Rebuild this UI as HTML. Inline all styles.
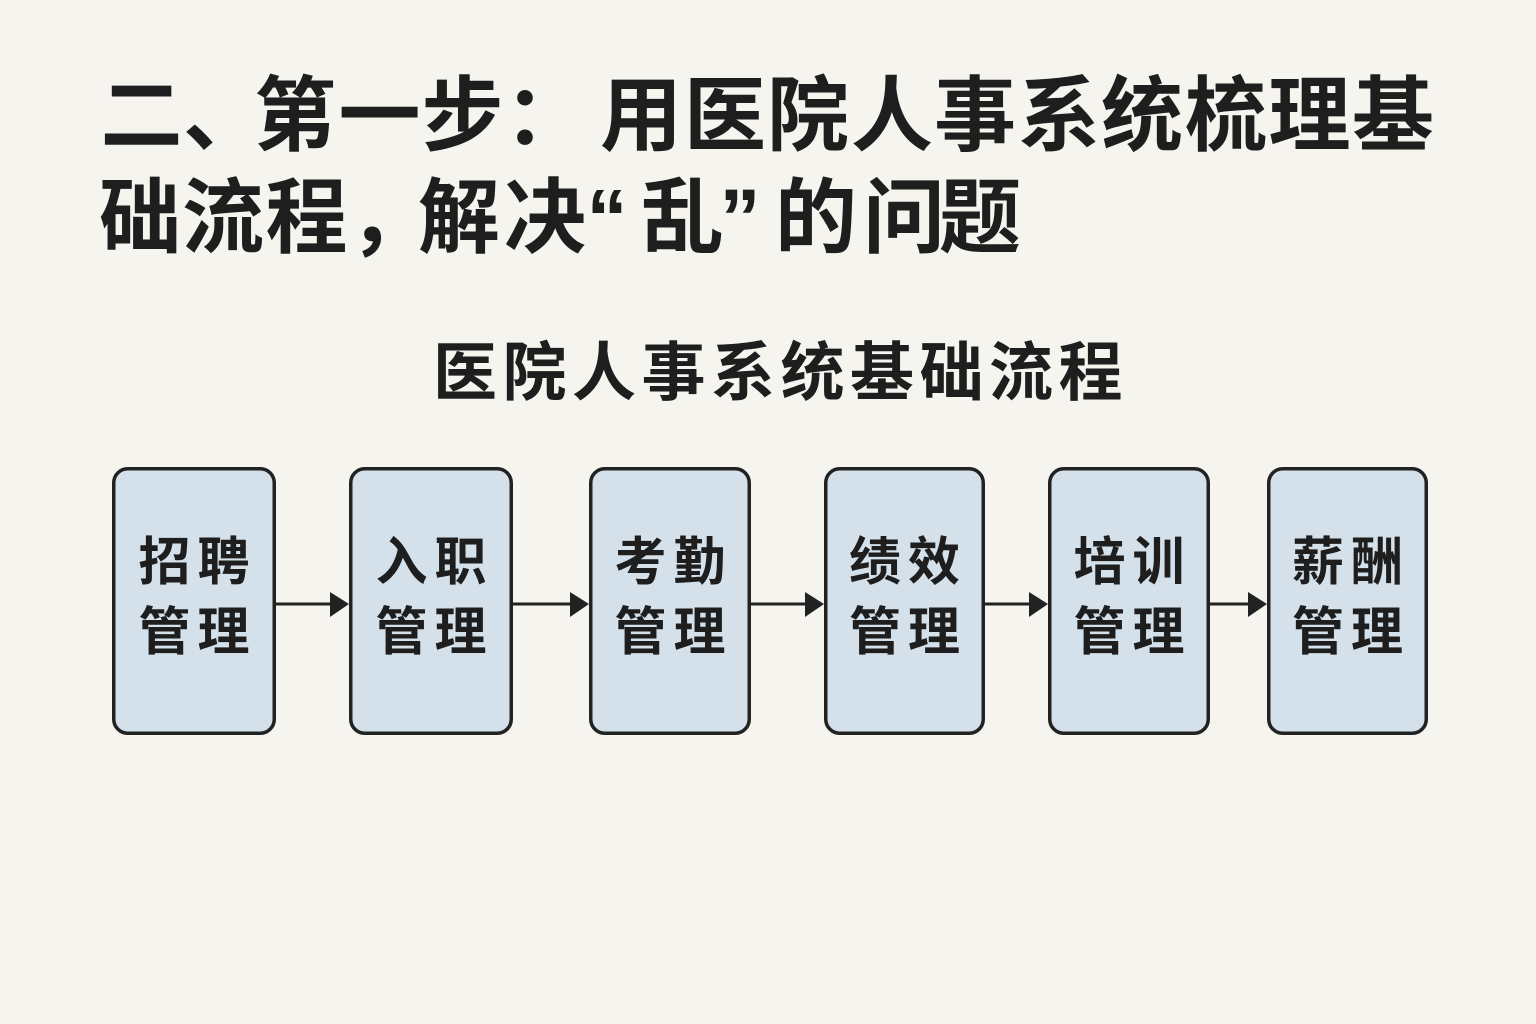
<!DOCTYPE html>
<html><head><meta charset="utf-8">
<style>
html,body{margin:0;padding:0;}
body{width:1536px;height:1024px;background:#f5f4ef;position:relative;overflow:hidden;
font-family:"Liberation Sans","Noto Sans CJK SC",sans-serif;color:#1e1e1e;}
.t{position:absolute;width:100px;margin-left:-50px;text-align:center;font-weight:700;white-space:nowrap;}
.l1,.l2{font-size:82px;line-height:82px;}
.l1{top:76px;}
.l2{top:178px;}
.s{font-size:64px;line-height:64px;top:341px;}
.bt{position:absolute;font-size:52px;line-height:52px;font-weight:700;text-align:center;letter-spacing:7px;text-indent:7px;white-space:nowrap;}
svg{position:absolute;left:0;top:0;}
</style></head><body>
<svg width="1536" height="1024" viewBox="0 0 1536 1024">
<g fill="#d4e1eb" stroke="#222" stroke-width="3.5">
<rect x="113.75" y="468.75" width="160.5" height="264.5" rx="14"/>
<rect x="350.75" y="468.75" width="160.5" height="264.5" rx="14"/>
<rect x="590.75" y="468.75" width="158.5" height="264.5" rx="14"/>
<rect x="825.75" y="468.75" width="157.5" height="264.5" rx="14"/>
<rect x="1049.75" y="468.75" width="158.5" height="264.5" rx="14"/>
<rect x="1268.75" y="468.75" width="157.5" height="264.5" rx="14"/>
</g>
<g stroke="#222" stroke-width="3">
<line x1="276" y1="604" x2="332" y2="604"/>
<line x1="513" y1="604" x2="572" y2="604"/>
<line x1="751" y1="604" x2="807" y2="604"/>
<line x1="985" y1="604" x2="1031" y2="604"/>
<line x1="1210" y1="604" x2="1250" y2="604"/>
</g>
<g fill="#222">
<polygon points="330,592 349,604 330,617"/>
<polygon points="570,592 589,604 570,617"/>
<polygon points="805,592 824,604 805,617"/>
<polygon points="1029,592 1048,604 1029,617"/>
<polygon points="1248,592 1267,604 1248,617"/>
</g>
</svg>

<!-- Title line 1 -->
<div class="t l1" style="left:141.5px">二</div>
<div class="t l1" style="left:224px">、</div>
<div class="t l1" style="left:295px">第</div>
<div class="t l1" style="left:379.5px">一</div>
<div class="t l1" style="left:462.5px">步</div>
<div class="t l1" style="left:545.5px">：</div>
<div class="t l1" style="left:641px">用</div>
<div class="t l1" style="left:725px">医</div>
<div class="t l1" style="left:808px">院</div>
<div class="t l1" style="left:892px">人</div>
<div class="t l1" style="left:975px">事</div>
<div class="t l1" style="left:1059px">系</div>
<div class="t l1" style="left:1142px">统</div>
<div class="t l1" style="left:1226px">梳</div>
<div class="t l1" style="left:1309.5px">理</div>
<div class="t l1" style="left:1393px">基</div>

<!-- Title line 2 -->
<div class="t l2" style="left:140px">础</div>
<div class="t l2" style="left:223px">流</div>
<div class="t l2" style="left:306.5px">程</div>
<div class="t l2" style="left:390px">，</div>
<div class="t l2" style="left:459px">解</div>
<div class="t l2" style="left:545px">决</div>
<div class="t l2" style="left:607px">“</div>
<div class="t l2" style="left:682.5px">乱</div>
<div class="t l2" style="left:740px">”</div>
<div class="t l2" style="left:816px">的</div>
<div class="t l2" style="left:904px">问</div>
<div class="t l2" style="left:980px">题</div>

<!-- Subtitle -->
<div class="t s" style="left:465px">医</div>
<div class="t s" style="left:534.5px">院</div>
<div class="t s" style="left:604px">人</div>
<div class="t s" style="left:673.5px">事</div>
<div class="t s" style="left:743px">系</div>
<div class="t s" style="left:812.5px">统</div>
<div class="t s" style="left:882px">基</div>
<div class="t s" style="left:951.5px">础</div>
<div class="t s" style="left:1021px">流</div>
<div class="t s" style="left:1090.5px">程</div>

<!-- Box texts -->
<div class="bt" style="left:112px;width:164px;top:537px">招聘</div>
<div class="bt" style="left:112px;width:164px;top:607px">管理</div>
<div class="bt" style="left:349px;width:164px;top:537px">入职</div>
<div class="bt" style="left:349px;width:164px;top:607px">管理</div>
<div class="bt" style="left:589px;width:162px;top:537px">考勤</div>
<div class="bt" style="left:589px;width:162px;top:607px">管理</div>
<div class="bt" style="left:824px;width:161px;top:537px">绩效</div>
<div class="bt" style="left:824px;width:161px;top:607px">管理</div>
<div class="bt" style="left:1048px;width:162px;top:537px">培训</div>
<div class="bt" style="left:1048px;width:162px;top:607px">管理</div>
<div class="bt" style="left:1267px;width:161px;top:537px">薪酬</div>
<div class="bt" style="left:1267px;width:161px;top:607px">管理</div>
</body></html>
